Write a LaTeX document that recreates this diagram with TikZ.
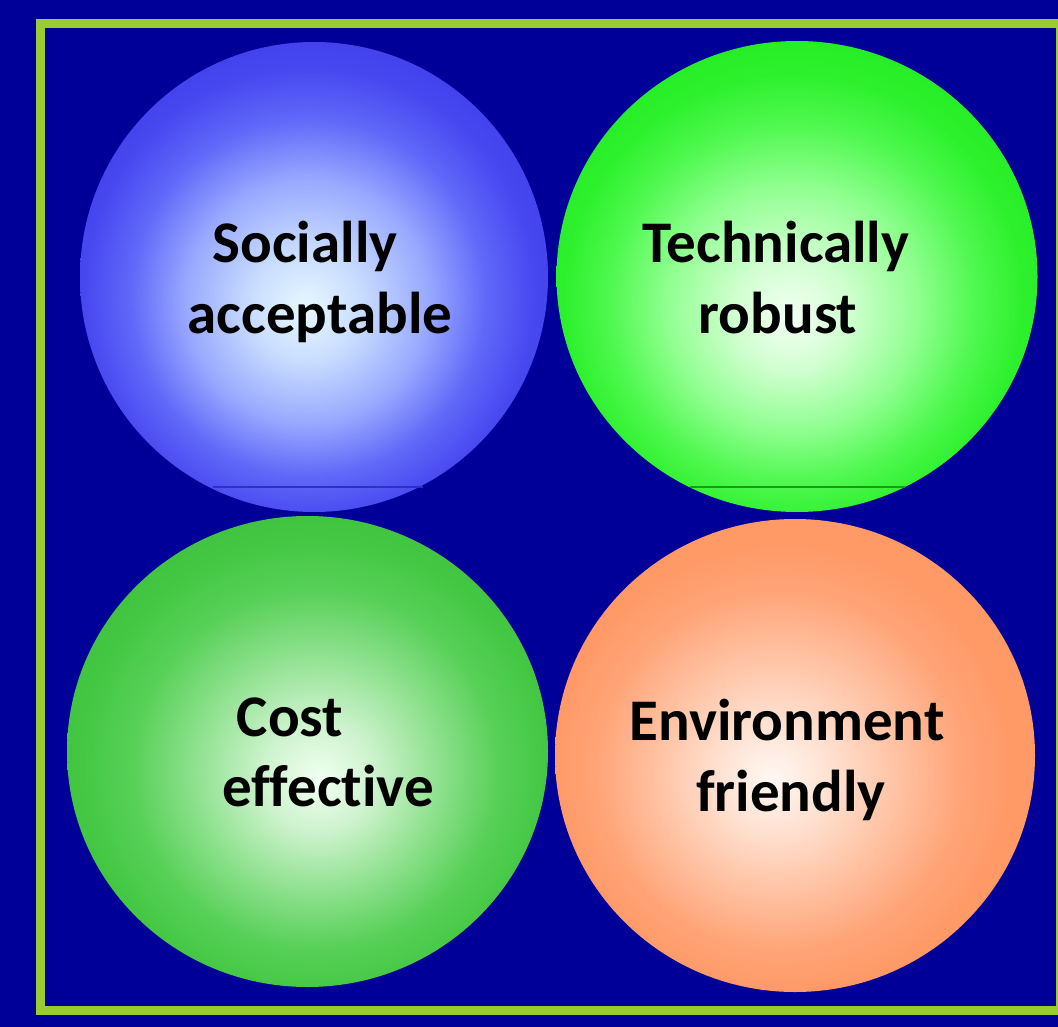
\documentclass[tikz,border=0pt]{standalone}
\usepackage{fontspec}
\setmainfont{Carlito}[Ligatures=NoCommon]
\usetikzlibrary{shapes.geometric}
\definecolor{navy}{HTML}{000099}
\definecolor{rimgreen}{HTML}{99CC33}
% blue
\definecolor{bA}{HTML}{E8F8FF}\definecolor{bB}{HTML}{C8DCFF}\definecolor{bC}{HTML}{98A8FF}
\definecolor{bD}{HTML}{6068F8}\definecolor{bE}{HTML}{4848F0}\definecolor{bF}{HTML}{4242EE}
% bright green
\definecolor{gA}{HTML}{F4FFF4}\definecolor{gB}{HTML}{D0FFD0}\definecolor{gC}{HTML}{90FF90}
\definecolor{gD}{HTML}{50F850}\definecolor{gE}{HTML}{2CF02C}\definecolor{gF}{HTML}{26EE26}
% mid green
\definecolor{mA}{HTML}{F2FFF2}\definecolor{mB}{HTML}{CCF2CC}\definecolor{mC}{HTML}{8CE08C}
\definecolor{mD}{HTML}{58D058}\definecolor{mE}{HTML}{44C844}\definecolor{mF}{HTML}{40C440}
% orange
\definecolor{oA}{HTML}{FFF8F4}\definecolor{oB}{HTML}{FFE0D0}\definecolor{oC}{HTML}{FFC0A0}
\definecolor{oD}{HTML}{FFA478}\definecolor{oE}{HTML}{FF9966}\definecolor{oF}{HTML}{FF9966}
\definecolor{chordblue}{HTML}{3030C0}
\definecolor{chordgreen}{HTML}{1A9A1A}
\pgfdeclareradialshading{blueball}{\pgfpoint{-1bp}{-3.5bp}}{color(0bp)=(bA); color(6bp)=(bB); color(13bp)=(bC); color(19bp)=(bD); color(24bp)=(bE); color(27bp)=(bF); color(50bp)=(bF)}
\pgfdeclareradialshading{greenball}{\pgfpoint{-0.75bp}{-4.5bp}}{color(0bp)=(gA); color(6bp)=(gB); color(13bp)=(gC); color(19bp)=(gD); color(24bp)=(gE); color(27bp)=(gF); color(50bp)=(gF)}
\pgfdeclareradialshading{midgreenball}{\pgfpoint{1.25bp}{-3bp}}{color(0bp)=(mA); color(6bp)=(mB); color(13bp)=(mC); color(19bp)=(mD); color(24bp)=(mE); color(27bp)=(mF); color(50bp)=(mF)}
\pgfdeclareradialshading{orangeball}{\pgfpoint{-2.5bp}{-2.5bp}}{color(0bp)=(oA); color(6bp)=(oB); color(13bp)=(oC); color(19bp)=(oD); color(24bp)=(oE); color(27bp)=(oF); color(50bp)=(oF)}
\begin{document}
\begin{tikzpicture}[x=1pt,y=-1pt,
  ball/.style={ellipse, inner sep=0pt, draw=none},
  lbl/.style={anchor=base, inner sep=0pt, text=black, font=\fontsize{59}{71}\selectfont\bfseries}]
\useasboundingbox (0,0) rectangle (1058,1027);
\clip (0,0) rectangle (1058,1027);
\fill[navy] (0,0) rectangle (1058,1027);
\draw[rimgreen, line width=9pt] (40,23.5) rectangle (1060,1010.5);
% circles
\node[ball, shading=blueball, minimum width=468pt, minimum height=470pt] (social) at (314,277) {};
\node[ball, shading=greenball, minimum width=481pt, minimum height=471pt] (tech) at (797,276.5) {};
\node[ball, shading=midgreenball, minimum width=481pt, minimum height=471pt] (cost) at (307.5,751.5) {};
\node[ball, shading=orangeball, minimum width=480pt, minimum height=473pt] (env) at (795,755.5) {};
\draw[chordblue, line width=1.5pt] (213,487) -- (423,487);
\draw[chordgreen, line width=1.5pt] (690,487) -- (905,487);
% labels
\node[lbl] (social1) at (305,262) {Socially};
\node[lbl] (social2) at (320,333) {acceptable};
\node[lbl] (tech1) at (776,262) {Technically};
\node[lbl] (tech2) at (778,333) {robust};
\node[lbl] (cost1) at (290,736) {Cost};
\node[lbl] (cost2) at (328,806) {effective};
\node[lbl] (env1) at (787,740) {Environment};
\node[lbl] (env2) at (791,811) {friendly};
\end{tikzpicture}
\end{document}
